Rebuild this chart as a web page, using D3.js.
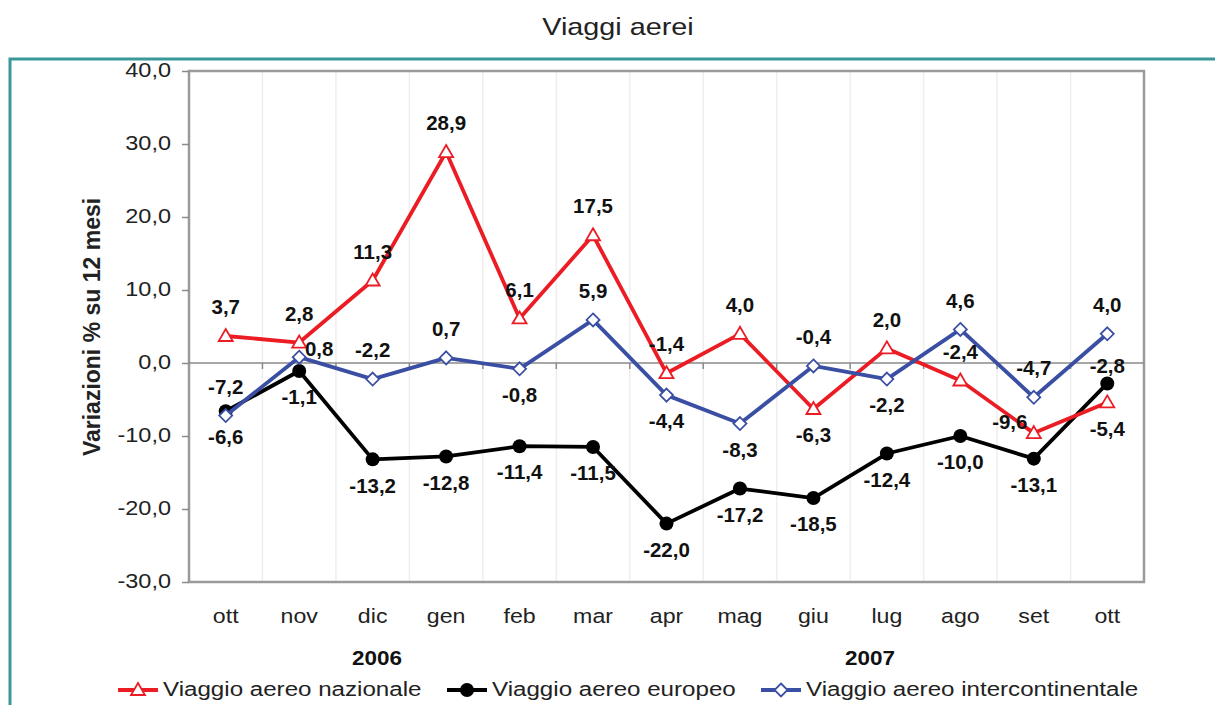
<!DOCTYPE html>
<html>
<head>
<meta charset="utf-8">
<script src="https://cdn.jsdelivr.net/npm/d3@7"></script>
<style>
  body { margin: 0; background: #fff; }
  svg { display: block; font-family: "Liberation Sans", Arial, sans-serif; }
</style>
</head>
<body>
<svg id="chart" width="1215" height="705"></svg>
<script>
// months shown on the x axis
const months = ["ott", "nov", "dic", "gen", "feb", "mar", "apr", "mag", "giu", "lug", "ago", "set", "ott"];
const yTicks = [-30, -20, -10, 0, 10, 20, 30, 40];

// series values (% change on 12 months)
const nazionale = [3.7, 2.8, 11.3, 28.9, 6.1, 17.5, -1.4, 4.0, -6.3, 2.0, -2.4, -9.6, -5.4];
const europeo = [-6.6, -1.1, -13.2, -12.8, -11.4, -11.5, -22.0, -17.2, -18.5, -12.4, -10.0, -13.1, -2.8];
const intercont = [-7.2, 0.8, -2.2, 0.7, -0.8, 5.9, -4.4, -8.3, -0.4, -2.2, 4.6, -4.7, 4.0];

// where each data label sits: t = above, b = below, l = left, r = right, s = close above
const nazionaleLab = ["t", "t", "t", "t", "t", "t", "t", "t", "b", "t", "t", "l", "b"];
const europeoLab = ["b", "b", "b", "b", "b", "b", "b", "b", "b", "b", "b", "b", "s"];
const intercontLab = ["t", "r", "t", "t", "b", "t", "b", "b", "t", "b", "t", "t", "t"];

const series = [
    {name: "Viaggio aereo nazionale", values: nazionale, labels: nazionaleLab, color: "#ec1c24", marker: "triangle"},
    {name: "Viaggio aereo europeo", values: europeo, labels: europeoLab, color: "#000000", marker: "circle"},
    {name: "Viaggio aereo intercontinentale", values: intercont, labels: intercontLab, color: "#3a4fa3", marker: "diamond"}
];

const it = d3.formatLocale({decimal: ",", thousands: ".", grouping: [3], currency: ["€", ""], minus: "-"});
const fmt = it.format(".1f");

const svg = d3.select("#chart");
const plotLeft = 189, plotRight = 1144, plotTop = 71, plotBottom = 582;

const x = d3.scaleBand().domain(d3.range(months.length)).range([plotLeft, plotRight]);
const cx = i => x(i) + x.bandwidth() / 2;
const y = d3.scaleLinear().domain([-30, 40]).range([plotBottom, plotTop]);

// the original picture is a bit wider than tall, text is drawn horizontally stretched
const addText = (parent, tx, ty, str, size, sx, opts = {}) => {
    return parent.append("text")
        .attr("transform", `translate(${tx},${ty}) scale(${sx},1)`)
        .attr("text-anchor", opts.anchor || "middle")
        .attr("dominant-baseline", "middle")
        .attr("font-size", size)
        .attr("font-weight", opts.bold ? "bold" : "normal")
        .attr("fill", opts.fill || "#222")
        .text(str);
};

// teal frame
svg.append("path")
    .attr("d", `M10,705 L10,59 L1215,59`)
    .attr("fill", "none").attr("stroke", "#3b9799").attr("stroke-width", 3);

// title
addText(svg, 618, 29, "Viaggi aerei", 24, 1.2);

// vertical grid lines at category boundaries
svg.append("g").selectAll("line")
    .data(d3.range(1, months.length))
    .enter().append("line")
    .attr("x1", d => x(d)).attr("x2", d => x(d))
    .attr("y1", plotTop).attr("y2", plotBottom)
    .attr("stroke", "#eeeeee").attr("stroke-width", 1.5);

// plot frame
svg.append("rect").attr("x", plotLeft).attr("y", plotTop)
    .attr("width", plotRight - plotLeft).attr("height", plotBottom - plotTop)
    .attr("fill", "none").attr("stroke", "#9a9a9a").attr("stroke-width", 2.5);

// zero line with category ticks
svg.append("line").attr("x1", plotLeft).attr("x2", plotRight).attr("y1", y(0)).attr("y2", y(0))
    .attr("stroke", "#8a8a8a").attr("stroke-width", 1.5);
svg.append("g").selectAll("line")
    .data(d3.range(1, months.length))
    .enter().append("line")
    .attr("x1", d => x(d)).attr("x2", d => x(d))
    .attr("y1", y(0)).attr("y2", y(0) + 6)
    .attr("stroke", "#8a8a8a").attr("stroke-width", 1.5);

// y axis
const yAxis = svg.append("g").attr("transform", `translate(${plotLeft},0)`)
    .call(d3.axisLeft(y).tickValues(yTicks).tickFormat(fmt).tickSize(7));
yAxis.select(".domain").remove();
yAxis.selectAll(".tick line").attr("stroke", "#8a8a8a").attr("stroke-width", 1.5);
yAxis.selectAll(".tick text")
    .attr("x", null).attr("dy", null)
    .attr("transform", "translate(-18,0) scale(1.12,1)")
    .attr("dominant-baseline", "middle")
    .attr("font-size", 21).attr("fill", "#222")
    .attr("font-family", "Liberation Sans, Arial, sans-serif");

svg.append("text")
    .attr("transform", "translate(94,327) rotate(-90)")
    .attr("text-anchor", "middle").attr("dominant-baseline", "middle")
    .attr("font-size", 23).attr("font-weight", "bold").attr("fill", "#222")
    .text("Variazioni % su 12 mesi");

// month labels
const monthG = svg.append("g");
months.forEach((m, i) => addText(monthG, cx(i), 618, m, 20.5, 1.13));

// years
addText(svg, 377, 659, "2006", 21, 1.07, {bold: true, fill: "#111"});
addText(svg, 870, 659, "2007", 21, 1.07, {bold: true, fill: "#111"});

const drawMarker = (g, type, color) => {
    if (type === "triangle") {
        g.append("path").attr("d", "M0,-7 L7,5 L-7,5 Z")
            .attr("fill", "#fff").attr("stroke", color).attr("stroke-width", 1.8);
    } else if (type === "circle") {
        g.append("circle").attr("r", 7).attr("fill", color);
    } else {
        g.append("path").attr("d", "M0,-6.5 L6.5,0 L0,6.5 L-6.5,0 Z")
            .attr("fill", "#fff").attr("stroke", color).attr("stroke-width", 1.8);
    }
};

const line = d3.line().x((d, i) => cx(i)).y(d => y(d));

const labelOffset = {t: [0, -27], b: [0, 28], l: [-24, -9], r: [20, -6], s: [0, -16]};

// europeo at the back, then nazionale, intercontinentale on top
const order = [1, 0, 2];
order.forEach(k => {
    const s = series[k];
    const g = svg.append("g");
    g.append("path").datum(s.values).attr("d", line)
        .attr("fill", "none").attr("stroke", s.color).attr("stroke-width", 3.8)
        .attr("stroke-linejoin", "round");
    s.values.forEach((v, i) => {
        const m = g.append("g").attr("transform", `translate(${cx(i)},${y(v)})`);
        drawMarker(m, s.marker, s.color);
    });
});

// data labels
series.forEach(s => {
    const g = svg.append("g");
    s.values.forEach((v, i) => {
        const off = labelOffset[s.labels[i]];
        addText(g, cx(i) + off[0], y(v) + off[1], fmt(v), 19.5, 1.05, {bold: true, fill: "#111"});
    });
});

// legend
const legendX = [118, 447, 761];
series.forEach((s, i) => {
    const g = svg.append("g").attr("transform", `translate(${legendX[i]},690)`);
    g.append("line").attr("x1", 0).attr("x2", 40).attr("y1", 0).attr("y2", 0)
        .attr("stroke", s.color).attr("stroke-width", 3.8);
    drawMarker(g.append("g").attr("transform", "translate(20,0)"), s.marker, s.color);
    addText(g, 45, 0, s.name, 21, 1.15, {anchor: "start"});
});
</script>
</body>
</html>
